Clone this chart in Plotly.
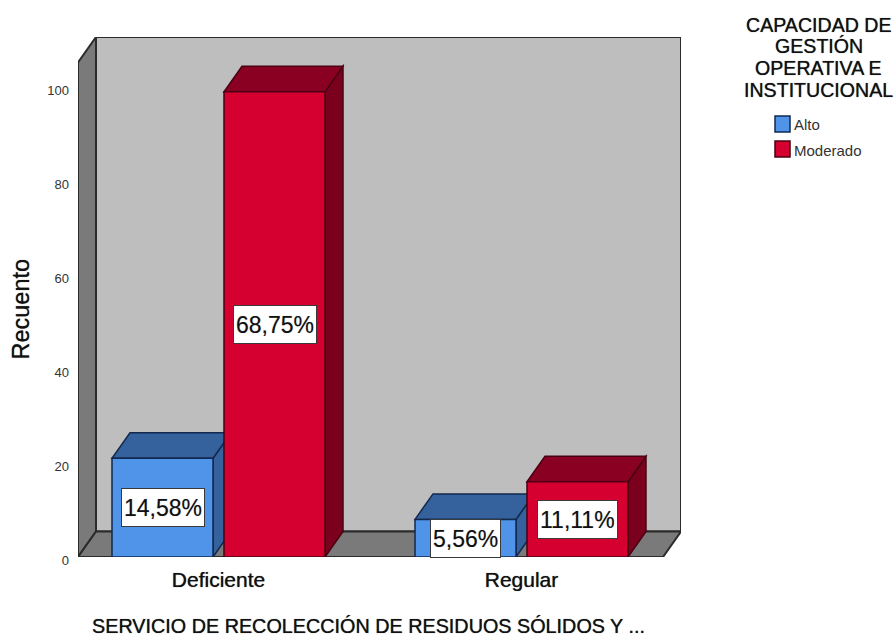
import plotly.graph_objects as go

# Recuento por categoría y nivel de capacidad
categories = ["Deficiente", "Regular"]
alto_values = [21, 8]
moderado_values = [99, 16]
alto_labels = ["14,58%", "5,56%"]
moderado_labels = ["68,75%", "11,11%"]
y_ticks = [0, 20, 40, 60, 80, 100]
legend_title_lines = ["CAPACIDAD DE", "GESTIÓN", "OPERATIVA E", "INSTITUCIONAL"]
x_title = "SERVICIO DE RECOLECCIÓN DE RESIDUOS SÓLIDOS Y ..."
y_title = "Recuento"

W, H = 894, 636
LEFT, RIGHT, TOP, BOTTOM = 78, 681, 37, 557
PX_PER_UNIT = 4.70       # vertical pixels per count
PX_PER_CAT = 303         # horizontal pixels between categories
CAT0_PX = 218.5          # pixel position of the first category

x_min = (LEFT - CAT0_PX) / PX_PER_CAT
x_max = (RIGHT - CAT0_PX) / PX_PER_CAT
y_max = (BOTTOM - TOP) / PX_PER_UNIT

# Extrusion of the 3D look, in axis units
DX = 18 / PX_PER_CAT
DY = 25.5 / PX_PER_UNIT

BAR_W = 101 / PX_PER_CAT
ALTO_OFFSET = -106.5 / PX_PER_CAT
MOD_OFFSET = 5.5 / PX_PER_CAT

WALL = "#BEBEBE"
WALL_DARK = "#7A7A7A"
EDGE = "#2b2b2b"
BLUE, BLUE_DARK, BLUE_EDGE = "#4F94E8", "#35629C", "#12294F"
RED, RED_TOP, RED_SIDE, RED_EDGE = "#D60030", "#8A0022", "#7B001E", "#4A0012"

# Slight halo that thickens the text strokes
HEAVY = "0 0 0.8px rgba(0,0,0,0.75)"
SOFT = "0 0 0.8px rgba(0,0,0,0.35)"


def poly(points, fill, line, width=1.5):
    path = "M " + " L ".join(f"{x},{y}" for x, y in points) + " Z"
    return dict(type="path", path=path, xref="x", yref="y", layer="below",
                fillcolor=fill, line=dict(color=line, width=width))


def paper_x(px):
    return (px - LEFT) / (RIGHT - LEFT)


def paper_y(py):
    return (BOTTOM - py) / (BOTTOM - TOP)


# Chart box: back wall, left wall, floor
back_l = x_min + DX
back_r = x_max
front_r = x_max - DX
shapes = [
    poly([(back_l, DY), (back_r, DY), (back_r, y_max), (back_l, y_max)], WALL, EDGE, 2),
    poly([(x_min, 0), (back_l, DY), (back_l, y_max), (x_min, y_max - DY)], WALL_DARK, EDGE, 2),
    poly([(x_min, 0), (front_r, 0), (back_r, DY), (back_l, DY)], WALL_DARK, EDGE, 2),
]


def extrude(index, offset, value, top, side, edge):
    """Top and side faces of a bar, placed behind its front face."""
    x0 = index + offset
    x1 = x0 + BAR_W
    return [
        poly([(x1, 0), (x1 + DX, DY), (x1 + DX, value + DY), (x1, value)], side, edge),
        poly([(x0, value), (x1, value), (x1 + DX, value + DY), (x0 + DX, value + DY)], top, edge),
    ]


for i in range(len(categories)):
    shapes += extrude(i, ALTO_OFFSET, alto_values[i], BLUE_DARK, BLUE_DARK, BLUE_EDGE)
for i in range(len(categories)):
    shapes += extrude(i, MOD_OFFSET, moderado_values[i], RED_TOP, RED_SIDE, RED_EDGE)

fig = go.Figure()
fig.add_bar(x=[0, 1], y=alto_values, name="Alto", width=BAR_W, offset=ALTO_OFFSET,
            marker=dict(color=BLUE, line=dict(color=BLUE_EDGE, width=1.5)))
fig.add_bar(x=[0, 1], y=moderado_values, name="Moderado", width=BAR_W, offset=MOD_OFFSET,
            marker=dict(color=RED, line=dict(color=RED_EDGE, width=1.5)))

FONT = "Liberation Sans"
annotations = []

# Percentage boxes at half height of each bar
for offset, values, labels in [(ALTO_OFFSET, alto_values, alto_labels),
                               (MOD_OFFSET, moderado_values, moderado_labels)]:
    for i, (v, lab) in enumerate(zip(values, labels)):
        annotations.append(dict(
            x=i + offset + BAR_W / 2, y=v / 2, xref="x", yref="y", text=lab,
            showarrow=False, xanchor="center", yanchor="middle", height=33,
            bgcolor="white", bordercolor="#3a3a3a", borderwidth=1, borderpad=2,
            font=dict(family=FONT, size=23, color="#111111", shadow=SOFT)))

# Axis titles
annotations.append(dict(
    x=paper_x(368.5), y=paper_y(626), xref="paper", yref="paper", text=x_title,
    showarrow=False, xanchor="center", yanchor="middle",
    font=dict(family=FONT, size=19.8, color="#111111", shadow=HEAVY)))
annotations.append(dict(
    x=paper_x(20.5), y=paper_y(309), xref="paper", yref="paper", text=y_title,
    showarrow=False, xanchor="center", yanchor="middle", textangle=-90,
    font=dict(family=FONT, size=23.5, color="#111111", shadow=HEAVY)))

# Legend, set out beside the chart box
for line, py in zip(legend_title_lines, [25, 46, 68, 90]):
    annotations.append(dict(
        x=paper_x(818.5), y=paper_y(py), xref="paper", yref="paper", text=line,
        showarrow=False, xanchor="center", yanchor="middle",
        font=dict(family=FONT, size=19.6, color="#111111", shadow=HEAVY)))

for name, color, edge, py in [("Alto", BLUE, BLUE_EDGE, 124), ("Moderado", RED, RED_EDGE, 149)]:
    shapes.append(dict(
        type="rect", xref="paper", yref="paper", layer="above",
        x0=paper_x(775), x1=paper_x(790), y0=paper_y(py - 8), y1=paper_y(py + 8),
        fillcolor=color, line=dict(color=edge, width=1.5)))
    annotations.append(dict(
        x=paper_x(792), y=paper_y(py + 1), xref="paper", yref="paper", text=name,
        showarrow=False, xanchor="left", yanchor="middle",
        font=dict(family=FONT, size=15, color="#333333")))

fig.update_layout(
    width=W, height=H, autosize=False,
    margin=dict(l=LEFT, r=W - RIGHT, t=TOP, b=H - BOTTOM, pad=0),
    paper_bgcolor="white", plot_bgcolor="white",
    showlegend=False, barmode="overlay",
    shapes=shapes, annotations=annotations,
    font=dict(family=FONT),
    xaxis=dict(range=[x_min, x_max], tickmode="array", tickvals=[0, 1], ticktext=categories,
               showgrid=False, zeroline=False, showline=False, ticks="",
               ticklabelstandoff=8,
               tickfont=dict(family=FONT, size=21, color="#111111", shadow=HEAVY)),
    yaxis=dict(range=[0, y_max], tickmode="array", tickvals=y_ticks,
               showgrid=False, zeroline=False, showline=False, ticks="",
               ticklabelstandoff=8, ticklabelshift=3,
               tickfont=dict(family=FONT, size=13, color="#333333")),
)

fig.write_html("out.html")
